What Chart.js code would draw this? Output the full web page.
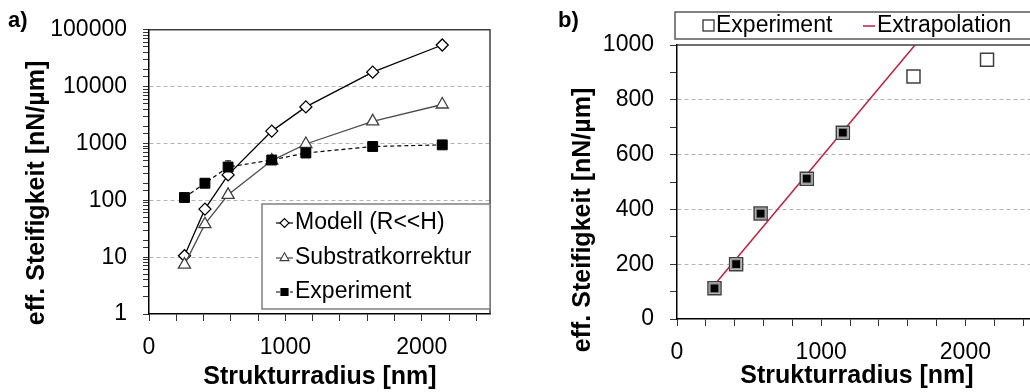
<!DOCTYPE html>
<html><head><meta charset="utf-8">
<script src="https://cdn.jsdelivr.net/npm/chart.js@4.4.1/dist/chart.umd.min.js"></script>
<style>
html,body{margin:0;padding:0;background:#fff;overflow:hidden;}
#wrap{position:relative;width:1030px;height:392px;overflow:hidden;background:#fff;}
canvas{position:absolute;top:0;}
#c1{left:0;} #c2{left:520px;}
</style></head><body>
<div id="wrap"><canvas id="c1" width="520" height="392"></canvas><canvas id="c2" width="530" height="392"></canvas></div>
<script>
// ---- data ----
const radius = [260, 410, 580, 900, 1150, 1640, 2150];
const modell = [10.6, 70, 280, 1650, 4400, 18000, 54000];
const substrat = [7.4, 38, 125, 500, 980, 2450, 4850];
const experiment = [112, 200, 385, 512, 680, 885, 946];
const experimentErr = [0, 0, 110, 0, 0, 0, 0];
const fitCount = 5;
const extrapX = [260, 1700];
const extrapY = [125, 1031];
const xTickLabels = [0, 1000, 2000];
const yLogTickLabels = [1, 10, 100, 1000, 10000, 100000];
const yLinTickLabels = [0, 200, 400, 600, 800, 1000];
const labelsA = ['Modell (R<<H)', 'Substratkorrektur', 'Experiment'];
const labelsB = ['Experiment', 'Extrapolation'];
const yTitle = 'eff. Steifigkeit [nN/µm]';
const xTitle = 'Strukturradius [nm]';

// ---- helpers ----
const FAM = "'Liberation Sans', Arial, sans-serif";
const TICK_FONT = {size: 23, family: FAM};
const pts = (xs, ys) => xs.map((x, i) => ({x: x, y: ys[i]}));
const isIn = (arr, v) => arr.some(a => Math.abs(a - v) < 1e-6 * Math.max(1, a));
Chart.defaults.font.family = FAM;
Chart.defaults.color = '#000';

function drawText(ctx, txt, x, y, font, rot, align) {
  ctx.save();
  ctx.translate(x, y);
  if (rot) ctx.rotate(rot);
  ctx.font = font;
  ctx.fillStyle = '#000';
  ctx.textAlign = align || 'center';
  ctx.textBaseline = 'middle';
  ctx.fillText(txt, 0, 0);
  ctx.restore();
}
function marker(ctx, style, x, y, r, fill, stroke, lw) {
  ctx.save();
  ctx.fillStyle = fill; ctx.strokeStyle = stroke; ctx.lineWidth = lw;
  Chart.helpers.drawPoint(ctx, {pointStyle: style, radius: r, rotation: 0, borderWidth: lw}, x, y);
  ctx.restore();
}

// ---- chart a) ----
const panelA = {
  id: 'panelA',
  beforeDatasetsDraw(chart) {
    const ctx = chart.ctx, xs = chart.scales.x, ys = chart.scales.y;
    ctx.save();
    ctx.strokeStyle = '#000'; ctx.lineWidth = 1;
    experimentErr.forEach((e, i) => {
      if (!e) return;
      const x = xs.getPixelForValue(radius[i]);
      const yt = ys.getPixelForValue(experiment[i] + e);
      const yb = ys.getPixelForValue(experiment[i] - e);
      ctx.beginPath();
      ctx.moveTo(x, yt); ctx.lineTo(x, yb);
      ctx.moveTo(x - 3, yt); ctx.lineTo(x + 3, yt);
      ctx.moveTo(x - 3, yb); ctx.lineTo(x + 3, yb);
      ctx.stroke();
    });
    ctx.restore();
  },
  afterDraw(chart) {
    const ctx = chart.ctx, a = chart.chartArea;
    ctx.save();
    ctx.strokeStyle = '#404040'; ctx.lineWidth = 1.5;
    ctx.beginPath();
    ctx.moveTo(a.left, a.top); ctx.lineTo(a.right, a.top); ctx.lineTo(a.right, a.bottom);
    ctx.stroke();
    // legend
    const bx = 262, by = 204, bw = 228, bh = 105;
    ctx.fillStyle = '#fff'; ctx.fillRect(bx, by, bw, bh);
    ctx.strokeStyle = '#808080'; ctx.lineWidth = 1.5; ctx.strokeRect(bx, by, bw, bh);
    const rows = [223, 258, 292];
    const lr = [4.5, 5.2, 5];
    chart.data.datasets.forEach((ds, i) => {
      const y = rows[i];
      ctx.save();
      ctx.strokeStyle = ds.borderColor; ctx.lineWidth = 1.2;
      ctx.setLineDash(ds.borderDash || []);
      ctx.beginPath(); ctx.moveTo(276, y); ctx.lineTo(293, y); ctx.stroke();
      ctx.restore();
      marker(ctx, ds.pointStyle, 284.5, y, lr[i], ds.pointBackgroundColor, ds.pointBorderColor, 1.1);
      drawText(ctx, ds.label, 295, y, '23px ' + FAM, 0, 'left');
    });
    ctx.restore();
    drawText(ctx, 'a)', 8, 21, 'bold 22px ' + FAM, 0, 'left');
    drawText(ctx, yTitle, 37, 193, 'bold 25px ' + FAM, -Math.PI / 2);
    drawText(ctx, xTitle, 320, 377, 'bold 25px ' + FAM, 0);
  }
};

new Chart(document.getElementById('c1'), {
  type: 'scatter',
  data: {datasets: [
    {label: labelsA[0], data: pts(radius, modell), showLine: true, borderColor: '#000', borderWidth: 1.3,
     pointStyle: 'rectRot', pointRadius: 6, pointBackgroundColor: '#fff', pointBorderColor: '#000', pointBorderWidth: 1.3, order: 3},
    {label: labelsA[1], data: pts(radius, substrat), showLine: true, borderColor: '#4d4d4d', borderWidth: 1.3,
     pointStyle: 'triangle', pointRadius: 7, pointBackgroundColor: '#fff', pointBorderColor: '#404040', pointBorderWidth: 1.3, order: 2},
    {label: labelsA[2], data: pts(radius, experiment), showLine: true, borderColor: '#000', borderWidth: 1.2, borderDash: [4, 3],
     pointStyle: 'rect', pointRadius: 7, pointBackgroundColor: '#000', pointBorderColor: '#000', pointBorderWidth: 1, order: 1}
  ]},
  options: {
    responsive: false, animation: false, devicePixelRatio: 1,
    layout: {padding: {left: 0, top: 23, right: 30, bottom: 0}},
    plugins: {legend: {display: false}, tooltip: {enabled: false}},
    scales: {
      x: {type: 'linear', min: 0, max: 2500, afterFit: s => { s.height = 78; },
        ticks: {stepSize: 200, autoSkip: false, includeBounds: false, maxRotation: 0, padding: 13, font: TICK_FONT, color: '#000',
          callback: v => isIn(xTickLabels, v) ? String(v) : ''},
        grid: {drawOnChartArea: false, drawTicks: true, tickLength: 7, tickColor: '#333', tickWidth: 1},
        border: {color: '#000', width: 1.5}},
      y: {type: 'logarithmic', min: 1, max: 100000, afterFit: s => { s.width = 149; },
        ticks: {autoSkip: false, padding: 16, font: TICK_FONT, color: '#000',
          callback: v => isIn(yLogTickLabels, v) ? String(v) : ''},
        grid: {color: c => (c.tick && isIn(yLogTickLabels, c.tick.value) && c.tick.value > 1.5 && c.tick.value < 90000) ? '#b3b3b3' : 'rgba(0,0,0,0)',
          tickColor: '#333', tickLength: 6, lineWidth: 1, borderDash: [4, 3]},
        border: {color: '#000', width: 1.5, dash: [4, 3]}}
    }
  },
  plugins: [panelA]
});

// ---- chart b) ----
const panelB = {
  id: 'panelB',
  afterDraw(chart) {
    const ctx = chart.ctx, a = chart.chartArea;
    ctx.save();
    ctx.strokeStyle = '#404040'; ctx.lineWidth = 1.5;
    ctx.beginPath();
    ctx.moveTo(a.left, a.top); ctx.lineTo(a.right, a.top); ctx.lineTo(a.right, a.bottom);
    ctx.stroke();
    // legend
    ctx.fillStyle = '#fff'; ctx.fillRect(155, 12, 400, 27);
    ctx.strokeStyle = '#595959'; ctx.lineWidth = 1.5; ctx.strokeRect(155, 12, 400, 27);
    const dsE = chart.data.datasets[1], dsL = chart.data.datasets[2];
    ctx.fillStyle = '#fff'; ctx.strokeStyle = '#333'; ctx.lineWidth = 1.3;
    ctx.fillRect(183, 20, 11, 11); ctx.strokeRect(183, 20, 11, 11);
    drawText(ctx, dsE.label, 196, 26, '23px ' + FAM, 0, 'left');
    ctx.strokeStyle = dsL.borderColor; ctx.lineWidth = 1.5;
    ctx.beginPath(); ctx.moveTo(343, 26); ctx.lineTo(355, 26); ctx.stroke();
    drawText(ctx, dsL.label, 357, 26, '23px ' + FAM, 0, 'left');
    ctx.restore();
    drawText(ctx, 'b)', 38, 21, 'bold 22px ' + FAM, 0, 'left');
    drawText(ctx, yTitle, 63, 220, 'bold 25px ' + FAM, -Math.PI / 2);
    drawText(ctx, xTitle, 337, 376, 'bold 25px ' + FAM, 0);
  }
};

new Chart(document.getElementById('c2'), {
  type: 'scatter',
  data: {datasets: [
    {label: 'fit', data: pts(radius.slice(0, fitCount), experiment.slice(0, fitCount)), showLine: false,
     pointStyle: 'rect', pointRadius: 6.6, pointBackgroundColor: '#000', pointBorderColor: '#9a9a9a', pointBorderWidth: 1.6, order: 1},
    {label: labelsB[0], data: pts(radius, experiment), showLine: false,
     pointStyle: 'rect', pointRadius: 9.2, pointBackgroundColor: '#fff', pointBorderColor: '#404040', pointBorderWidth: 1.5, order: 2},
    {label: labelsB[1], data: pts(extrapX, extrapY), showLine: true, borderColor: '#b5233f', borderWidth: 1.5, pointRadius: 0, order: 3}
  ]},
  options: {
    responsive: false, animation: false, devicePixelRatio: 1,
    layout: {padding: {left: 0, top: 45, right: 12.5, bottom: 0}},
    plugins: {legend: {display: false}, tooltip: {enabled: false}},
    scales: {
      x: {type: 'linear', min: 0, max: 2500, afterFit: s => { s.height = 73; },
        ticks: {stepSize: 200, autoSkip: false, includeBounds: false, maxRotation: 0, padding: 13, font: TICK_FONT, color: '#000',
          callback: v => isIn(xTickLabels, v) ? String(v) : ''},
        grid: {drawOnChartArea: false, drawTicks: true, tickLength: 7, tickColor: '#333', tickWidth: 1},
        border: {color: '#000', width: 1.5}},
      y: {type: 'linear', min: 0, max: 1000, afterFit: s => { s.width = 157; },
        ticks: {stepSize: 100, autoSkip: false, padding: 16, font: TICK_FONT, color: '#000',
          callback: v => isIn(yLinTickLabels, v) ? String(v) : ''},
        grid: {color: c => (c.tick && isIn(yLinTickLabels, c.tick.value) && c.tick.value > 0 && c.tick.value < 1000) ? '#b3b3b3' : 'rgba(0,0,0,0)',
          tickColor: '#333', tickLength: 7, lineWidth: 1, borderDash: [4, 3]},
        border: {color: '#000', width: 1.5, dash: [4, 3]}}
    }
  },
  plugins: [panelB]
});
</script>
</body></html>
